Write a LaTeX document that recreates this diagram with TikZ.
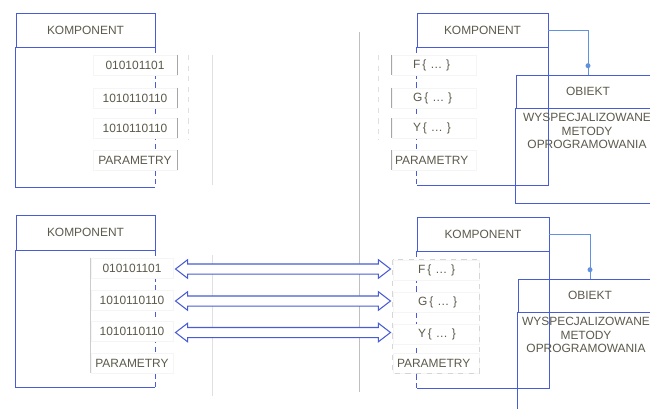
\documentclass[tikz,border=0pt]{standalone}
\usepackage{amsmath}
\usepackage{fontspec}
\setmainfont{Liberation Sans}
\usetikzlibrary{arrows,shapes.arrows,calc}
\definecolor{boxblue}{RGB}{72,92,214}
\definecolor{linkblue}{RGB}{96,146,224}
\definecolor{txtgray}{RGB}{92,90,76}
\tikzstyle{head}=[draw=boxblue,rectangle,minimum width=2.78cm,minimum height=0.68cm,inner sep=0pt,text=txtgray,font=\fontsize{6.8}{7.7}\selectfont]
\tikzstyle{boxline}=[draw=boxblue,line width=0.5pt]
\tikzstyle{item}=[rectangle,fill=white,draw=black!4,minimum width=1.68cm,minimum height=0.4cm,inner sep=0pt,text=txtgray,font=\fontsize{6.8}{7.7}\selectfont]
\tikzstyle{ritem}=[item,text width=1.64cm,align=left]
\tikzstyle{bar}=[draw=black!35,line width=0.6pt]
\tikzstyle{faint}=[draw=black!12,line width=0.5pt]
\tikzstyle{body}=[align=center,inner sep=0pt,text=txtgray,font=\fontsize{6.8}{7.9}\selectfont]
\tikzstyle{link}=[draw=linkblue,line width=0.5pt]
\tikzstyle{dot}=[circle,fill=linkblue,inner sep=0pt,minimum size=0.1cm]
\tikzstyle{dblarrow}=[double arrow,draw=boxblue,fill=white,line width=0.6pt,inner sep=0.09cm,double arrow head extend=0.085cm,double arrow tip angle=75,minimum height=4.3cm,minimum width=0.35cm]

\begin{document}
\begin{tikzpicture}[x=0.02cm,y=-0.02cm]
\useasboundingbox (0,0) rectangle (650,409);

\draw[draw=black!25,line width=0.5pt] (359,32) -- (359,392);
\draw[faint] (212,55) -- (212,185);
\draw[faint] (212,255) -- (212,396);

\node[head] (kL1) at (85.5,30) {KOMPONENT};
\draw[boxline] (kL1.south west) -- ++(0,140) -- ++(139,0);
\draw[boxline,densely dashed] (kL1.south east) -- ++(0,140);
\node[item] (lt1) at (135,65) {010101101};
\node[item] (lt2) at (135,98) {1010110110};
\node[item] (lt3) at (135,128) {1010110110};
\node[item] (lt4) at (135,160) {PARAMETRY};
\draw[bar] (lt1.north east) -- (lt1.south east);
\draw[bar] (lt2.north east) -- (lt2.south east);
\draw[bar] (lt3.north east) -- (lt3.south east);
\draw[bar] (lt4.north east) -- (lt4.south east);
\draw[faint,dashed] (188,55) -- (188,140);

\node[head,minimum width=2.62cm] (kR1) at (482.5,30) {KOMPONENT};
\draw[boxline] (kR1.south east) -- ++(0,138) -- ++(-131,0);
\draw[boxline,densely dashed] (kR1.south west) -- ++(0,138);
\node[ritem] (rt1) at (434,65) {\hspace*{0.4cm}F\,\{ \ldots\ \}};
\node[ritem] (rt2) at (434,98) {\hspace*{0.4cm}G\,\{ \ldots\ \}};
\node[ritem] (rt3) at (434,128) {\hspace*{0.4cm}Y\,\{ \ldots\ \}};
\node[ritem] (rt4) at (434,160) {\hspace*{0.04cm}PARAMETRY};
\draw[bar] (rt1.north west) -- (rt1.south west);
\draw[bar] (rt2.north west) -- (rt2.south west);
\draw[bar] (rt3.north west) -- (rt3.south west);
\draw[bar] (rt4.north west) -- (rt4.south west);
\draw[faint,dashed] (378,55) -- (378,140);

\node[head,minimum width=2.88cm,minimum height=0.66cm] (oT1) at (588,91.5) {OBIEKT};
\draw[boxline] (oT1.south west) -- ++(0,95) -- ++(144,0);
\node[body] (oT2) at (587,131) {WYSPECJALIZOWANE\\METODY\\OPROGRAMOWANIA};
\draw[link] (kR1.east) -| (oT1.north) node[pos=0.9,dot] (dT) {};

\node[head,minimum height=0.7cm] (kL2) at (85.5,232.5) {KOMPONENT};
\draw[boxline] (kL2.south west) -- ++(0,137) -- ++(139,0);
\draw[boxline,densely dashed] (kL2.south east) -- ++(0,137);
\node[item,minimum width=1.64cm] (lb1) at (132,268) {010101101};
\node[item,minimum width=1.64cm] (lb2) at (132,300) {1010110110};
\node[item,minimum width=1.64cm] (lb3) at (132,331) {1010110110};
\node[item,minimum width=1.64cm] (lb4) at (132,363) {PARAMETRY};
\draw[draw=black!20,line width=0.5pt] (lb1.north west) -- (lb4.south west);

\node[head,minimum width=2.64cm] (kR2) at (483,234) {KOMPONENT};
\draw[boxline] (kR2.south east) -- ++(0,137) -- ++(-132,0);
\draw[boxline,densely dashed] (kR2.south west) -- ++(0,137);
\node[ritem,text width=1.72cm] (rb1) at (436,270) {\hspace*{0.5cm}F\,\{ \ldots\ \}};
\node[ritem,text width=1.72cm] (rb2) at (436,302) {\hspace*{0.5cm}G\,\{ \ldots\ \}};
\node[ritem,text width=1.72cm] (rb3) at (436,334) {\hspace*{0.5cm}Y\,\{ \ldots\ \}};
\node[ritem,text width=1.72cm] (rb4) at (436,363) {\hspace*{0.08cm}PARAMETRY};
\draw[faint,draw=black!16,dashed] (rb1.north west) rectangle (rb4.south east);

\node[head,minimum width=2.88cm,minimum height=0.66cm] (oB1) at (590,295.5) {OBIEKT};
\draw[boxline] (oB1.south west) -- ++(0,110);
\node[body] (oB2) at (586,335) {WYSPECJALIZOWANE\\METODY\\OPROGRAMOWANIA};
\draw[link] (kR2.east) -| (oB1.north) node[pos=0.9,dot] (dB) {};

\node[dblarrow] (a1) at ($(lb1.east)!.5!(rb1.west)$) {};
\node[dblarrow] (a2) at ($(lb2.east)!.5!(rb2.west)$) {};
\node[dblarrow] (a3) at ($(lb3.east)!.5!(rb3.west)$) {};

\end{tikzpicture}
\end{document}
